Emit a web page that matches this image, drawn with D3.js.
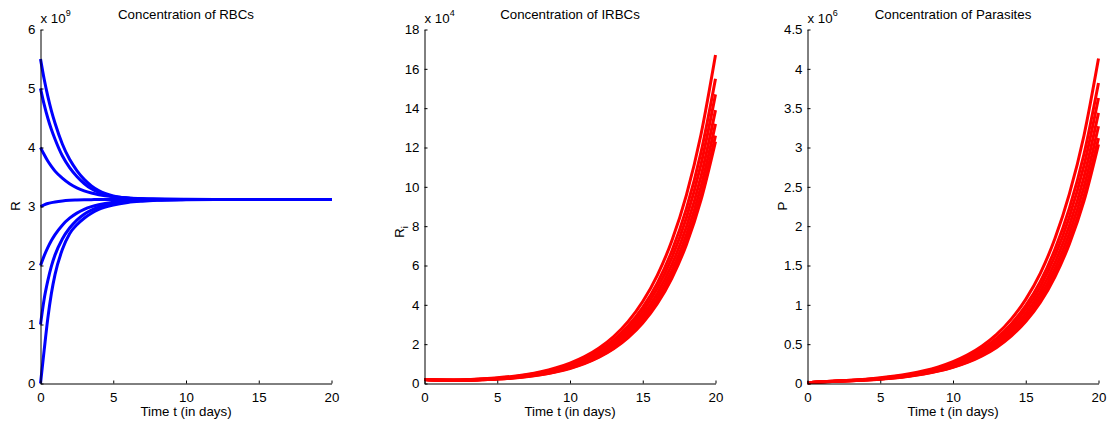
<!DOCTYPE html>
<html>
<head>
<meta charset="utf-8">
<script src="https://cdn.jsdelivr.net/npm/d3@7"></script>
<style>
  body { margin: 0; background: #fff; }
  svg { display: block; }
  text { font-family: "Liberation Sans", Arial, Helvetica, sans-serif; fill: #000; }
</style>
</head>
<body>
<svg id="fig" width="1109" height="423"></svg>
<script>
// ---- time grids (days) ----
const tRbc = [0, 0.25, 0.5, 0.75, 1, 1.5, 2, 2.5, 3, 3.5, 4, 5, 6, 7, 8, 10, 12, 14, 16, 18, 20];
const tDay = [0, 1, 2, 3, 4, 5, 6, 7, 8, 9, 10, 11, 12, 13, 14, 15, 16, 17, 18, 19, 20];

// ---- healthy red blood cells, units of 1e9 ----
const rbc55 = [5.50, 5.16, 4.87, 4.62, 4.41, 4.06, 3.80, 3.61, 3.46, 3.35, 3.27, 3.18, 3.145, 3.13, 3.125, 3.12, 3.12, 3.12, 3.12, 3.12, 3.12];
const rbc50 = [5.00, 4.73, 4.50, 4.305, 4.14, 3.86, 3.66, 3.51, 3.39, 3.30, 3.24, 3.167, 3.14, 3.128, 3.124, 3.12, 3.12, 3.12, 3.12, 3.12, 3.12];
const rbc40 = [4.00, 3.88, 3.77, 3.68, 3.60, 3.48, 3.385, 3.316, 3.265, 3.228, 3.20, 3.164, 3.144, 3.133, 3.127, 3.122, 3.12, 3.12, 3.12, 3.12, 3.12];
const rbc30 = [3.00, 3.027, 3.05, 3.066, 3.078, 3.095, 3.105, 3.11, 3.114, 3.116, 3.118, 3.12, 3.12, 3.12, 3.12, 3.12, 3.12, 3.12, 3.12, 3.12, 3.12];
const rbc20 = [2.00, 2.164, 2.302, 2.422, 2.523, 2.684, 2.802, 2.888, 2.951, 2.997, 3.030, 3.072, 3.094, 3.107, 3.113, 3.118, 3.12, 3.12, 3.12, 3.12, 3.12];
const rbc10 = [1.00, 1.43, 1.74, 1.99, 2.18, 2.45, 2.635, 2.77, 2.87, 2.94, 2.99, 3.05, 3.083, 3.10, 3.109, 3.117, 3.12, 3.12, 3.12, 3.12, 3.12];
const rbc00 = [0.00, 0.56, 1.10, 1.53, 1.85, 2.27, 2.54, 2.69, 2.80, 2.885, 2.95, 3.025, 3.068, 3.09, 3.104, 3.115, 3.119, 3.12, 3.12, 3.12, 3.12];

// ---- infected red blood cells, units of 1e4 ----
const irbc1 = [0.20, 0.18, 0.18, 0.20, 0.24, 0.29, 0.36, 0.46, 0.60, 0.79, 1.04, 1.37, 1.81, 2.39, 3.16, 4.17, 5.50, 7.26, 9.58, 12.65, 16.70];
const irbc2 = [0.20, 0.177, 0.174, 0.190, 0.226, 0.272, 0.336, 0.428, 0.557, 0.734, 0.965, 1.271, 1.680, 2.218, 2.932, 3.870, 5.104, 6.737, 8.890, 11.74, 15.50];
const irbc3 = [0.20, 0.175, 0.169, 0.184, 0.217, 0.259, 0.320, 0.407, 0.529, 0.696, 0.915, 1.206, 1.593, 2.103, 2.781, 3.670, 4.840, 6.389, 8.430, 11.13, 14.70];
const irbc4 = [0.20, 0.172, 0.165, 0.177, 0.208, 0.247, 0.304, 0.386, 0.501, 0.659, 0.865, 1.140, 1.506, 1.988, 2.629, 3.469, 4.576, 6.040, 7.971, 10.52, 13.90];
const irbc5 = [0.20, 0.171, 0.161, 0.171, 0.200, 0.236, 0.290, 0.367, 0.476, 0.626, 0.822, 1.082, 1.430, 1.888, 2.496, 3.294, 4.345, 5.735, 7.568, 9.994, 13.20];
const irbc6 = [0.20, 0.169, 0.158, 0.167, 0.193, 0.227, 0.278, 0.351, 0.455, 0.597, 0.784, 1.033, 1.365, 1.802, 2.383, 3.144, 4.147, 5.474, 7.223, 9.538, 12.60];
const irbc7 = [0.20, 0.168, 0.156, 0.164, 0.190, 0.223, 0.272, 0.344, 0.445, 0.585, 0.766, 1.010, 1.334, 1.761, 2.329, 3.073, 4.054, 5.351, 7.060, 9.323, 12.30];

// ---- free parasites, units of 1e6 ----
const par1 = [0.010, 0.022, 0.032, 0.042, 0.055, 0.072, 0.094, 0.124, 0.162, 0.212, 0.278, 0.364, 0.477, 0.624, 0.818, 1.070, 1.400, 1.840, 2.410, 3.150, 4.13];
const par2 = [0.010, 0.0216, 0.0308, 0.0399, 0.0518, 0.0675, 0.0877, 0.1154, 0.1505, 0.197, 0.257, 0.337, 0.441, 0.577, 0.757, 0.990, 1.295, 1.702, 2.229, 2.914, 3.82];
const par3 = [0.010, 0.0213, 0.0301, 0.0386, 0.0497, 0.0644, 0.0835, 0.1097, 0.1429, 0.1868, 0.244, 0.320, 0.419, 0.549, 0.719, 0.941, 1.231, 1.617, 2.118, 2.769, 3.63];
const par4 = [0.010, 0.0211, 0.0293, 0.0372, 0.0476, 0.0613, 0.0793, 0.1040, 0.1353, 0.1768, 0.232, 0.303, 0.397, 0.520, 0.681, 0.891, 1.166, 1.533, 2.008, 2.624, 3.44];
const par5 = [0.010, 0.0209, 0.0286, 0.0360, 0.0458, 0.0587, 0.0757, 0.0990, 0.1286, 0.1679, 0.220, 0.288, 0.378, 0.494, 0.648, 0.847, 1.109, 1.457, 1.909, 2.495, 3.27];
const par6 = [0.010, 0.0207, 0.0281, 0.0350, 0.0442, 0.0564, 0.0725, 0.0947, 0.1230, 0.1603, 0.210, 0.275, 0.360, 0.471, 0.618, 0.808, 1.057, 1.389, 1.820, 2.378, 3.12];
const par7 = [0.010, 0.0205, 0.0278, 0.0345, 0.0435, 0.0554, 0.0710, 0.0927, 0.1202, 0.1569, 0.205, 0.268, 0.351, 0.459, 0.602, 0.788, 1.030, 1.354, 1.774, 2.318, 3.04];

// ---- tick values ----
const timeTicks = [0, 5, 10, 15, 20];
const rbcTicks = [0, 1, 2, 3, 4, 5, 6];
const irbcTicks = [0, 2, 4, 6, 8, 10, 12, 14, 16, 18];
const parTicks = [0, 0.5, 1, 1.5, 2, 2.5, 3, 3.5, 4, 4.5];

// ---- panel descriptions ----
const panels = [
  { left: 40.5,  title: "Concentration of RBCs",     label: "R", sub: "",  exp: "9",
    yMax: 6,   yTicks: rbcTicks,  color: "#0000ff", t: tRbc, labelY: 206,
    series: [rbc55, rbc50, rbc40, rbc30, rbc20, rbc10, rbc00] },
  { left: 424.5, title: "Concentration of IRBCs",    label: "R", sub: "i", exp: "4",
    yMax: 18,  yTicks: irbcTicks, color: "#ff0000", t: tDay, labelY: 232,
    series: [irbc7, irbc6, irbc5, irbc4, irbc3, irbc2, irbc1] },
  { left: 807.5, title: "Concentration of Parasites", label: "P", sub: "",  exp: "6",
    yMax: 4.5, yTicks: parTicks,  color: "#ff0000", t: tDay, labelY: 206,
    series: [par7, par6, par5, par4, par3, par2, par1] }
];

const plotW = 291, plotTop = 29.5, plotBottom = 383.5;
const fs = 13.3;
const svg = d3.select("#fig");

panels.forEach(p => {
  const x = d3.scaleLinear().domain([0, 20]).range([0, plotW]);
  const y = d3.scaleLinear().domain([0, p.yMax]).range([plotBottom, plotTop]);
  const g = svg.append("g").attr("transform", `translate(${p.left},0)`);

  // curves
  const line = d3.line()
    .x(d => x(d[0]))
    .y(d => y(d[1]))
    .curve(d3.curveMonotoneX);
  p.series.forEach(vals => {
    g.append("path")
      .attr("d", line(vals.map((v, i) => [p.t[i], v])))
      .attr("fill", "none")
      .attr("stroke", p.color)
      .attr("stroke-width", 3)
      .attr("stroke-linejoin", "round");
  });

  // axes: ticks point inward
  const ax = g.append("g").attr("transform", `translate(0,${plotBottom})`)
    .call(d3.axisBottom(x).tickValues(timeTicks).tickSizeInner(-3).tickSizeOuter(0).tickPadding(9).tickFormat(d => String(d)));
  const ay = g.append("g")
    .call(d3.axisLeft(y).tickValues(p.yTicks).tickSizeInner(-3).tickSizeOuter(0).tickPadding(5).tickFormat(d => String(d)));
  [ax, ay].forEach(a => {
    a.attr("font-family", null);
    a.selectAll("text").attr("font-size", fs).attr("fill", "#000");
    a.selectAll("line, path").attr("stroke", "#000").attr("stroke-width", 1);
  });

  // title
  g.append("text").attr("x", plotW / 2).attr("y", 18.5).attr("text-anchor", "middle")
    .attr("font-size", fs).text(p.title);

  // scale factor above the y axis
  const ex = g.append("text").attr("x", 0).attr("y", 23).attr("font-size", fs);
  ex.append("tspan").text("x 10");
  ex.append("tspan").attr("font-size", 9).attr("dy", -7).text(p.exp);

  // x label
  g.append("text").attr("x", plotW / 2).attr("y", 416).attr("text-anchor", "middle")
    .attr("font-size", fs).text("Time t (in days)");

  // y label
  const yl = g.append("text")
    .attr("transform", `translate(-21,${p.labelY}) rotate(-90)`)
    .attr("text-anchor", "middle").attr("font-size", fs);
  yl.append("tspan").text(p.label);
  if (p.sub) yl.append("tspan").attr("font-size", 9).attr("dy", 4).text(p.sub);
});
</script>
</body>
</html>
